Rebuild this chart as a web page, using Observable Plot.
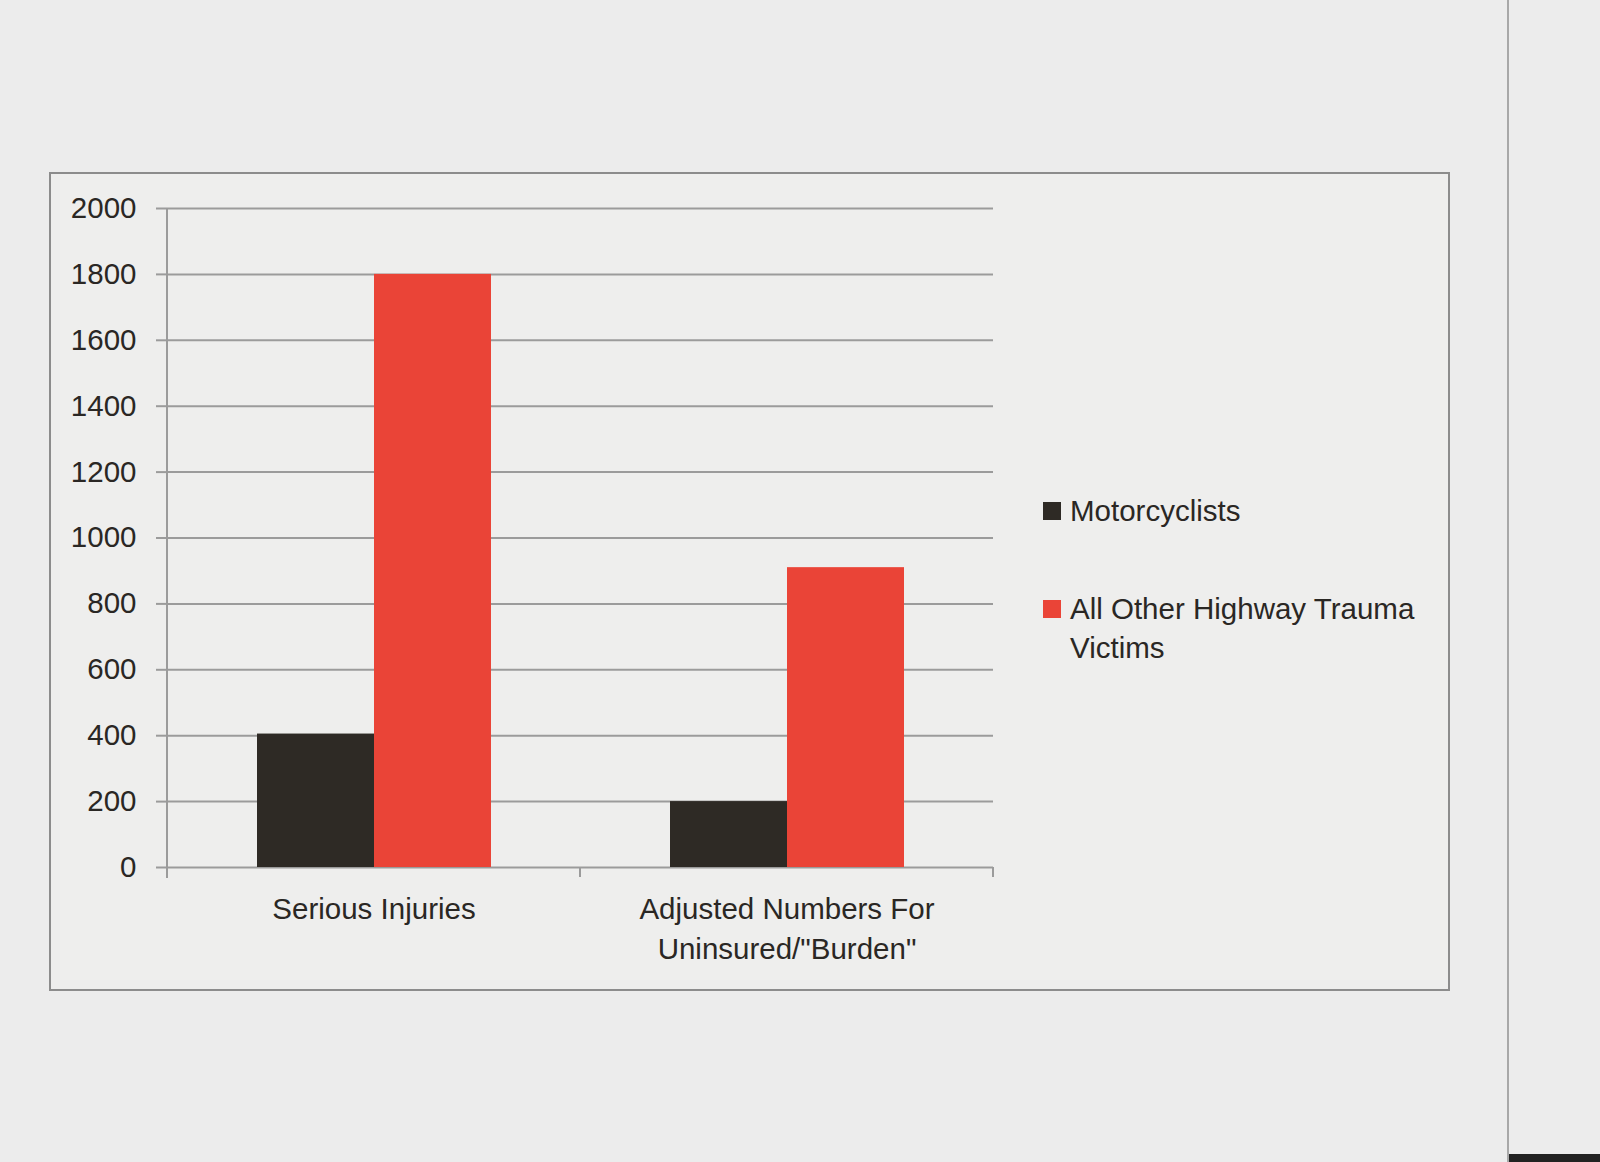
<!DOCTYPE html>
<html>
<head>
<meta charset="utf-8">
<script src="https://cdn.jsdelivr.net/npm/d3@7"></script>
<script src="https://cdn.jsdelivr.net/npm/@observablehq/plot@0.6"></script>
<style>
  html, body { margin: 0; padding: 0; }
  body { background: #ececec; width: 1600px; height: 1162px; position: relative; overflow: hidden;
         font-family: "Liberation Sans", Arial, sans-serif; color: #2a2724; }
  #frame { position: absolute; left: 49px; top: 172px; width: 1397px; height: 815px;
           border: 2px solid #8c8c8c; box-sizing: content-box; background: #eeeeed; }
  #chart { position: absolute; left: 0; top: 0; }
  #legend { position: absolute; left: 1043px; top: 491px; font-size: 29.5px; line-height: 39px; }
  .item { display: flex; align-items: flex-start; margin-bottom: 59px; }
  .swatch { width: 18px; height: 18px; margin-top: 10.5px; flex: none; }
  .label { margin-left: 9px; max-width: 380px; }
  #edge { position: absolute; left: 1507px; top: 0; width: 2px; height: 1162px; background: #a8a8a8; }
  #edge2 { position: absolute; left: 1509px; top: 1154px; width: 91px; height: 8px; background: #222; }
</style>
</head>
<body>
<div id="frame"></div>
<div id="edge"></div>
<div id="edge2"></div>
<div id="chart"></div>
<div id="legend"></div>
<script>
// ---- data ----
const categories = ["Serious Injuries", "Adjusted Numbers For\nUninsured/\"Burden\""];
const series = ["Motorcyclists", "All Other Highway Trauma Victims"];
const motorcyclists = [405, 200];
const allOtherVictims = [1800, 910];
const seriesColors = ["#2e2a25", "#ea4437"];
const yTicks = [0, 200, 400, 600, 800, 1000, 1200, 1400, 1600, 1800, 2000];

const rows = [];
categories.forEach((c, i) => {
  rows.push({category: c, series: series[0], value: motorcyclists[i]});
  rows.push({category: c, series: series[1], value: allOtherVictims[i]});
});

const chart = Plot.plot({
  width: 1600,
  height: 1162,
  marginLeft: 166,
  marginRight: 607,
  marginTop: 208,
  marginBottom: 295,
  style: {background: "transparent", fontFamily: "'Liberation Sans', Arial, sans-serif", fontSize: "29px", color: "#2a2724", overflow: "visible"},
  fx: {domain: categories, padding: 0, label: null},
  x: {domain: series, paddingInner: 0, paddingOuter: 0.752, axis: null},
  y: {domain: [0, 2000], label: null},
  color: {domain: series, range: seriesColors},
  marks: [
    Plot.gridY(yTicks, {stroke: "#9b9b9b", strokeOpacity: 1, strokeWidth: 2}),
    Plot.barY(rows, {fx: "category", x: "series", y: "value", fill: "series"}),
    Plot.axisY(yTicks, {tickSize: 11, tickPadding: 20, stroke: "#9b9b9b", strokeWidth: 2, fontSize: 29.5, label: null, tickFormat: d => String(d)}),
    Plot.axisFx({anchor: "bottom", tickSize: 0, tickPadding: 24, fontSize: 29.5, lineHeight: 1.33, label: null, tickFormat: d => d})
  ]
});
document.getElementById("chart").appendChild(chart);

// axis line and category boundary ticks derived from the plot's own scales
const fx = chart.scale("fx");
const y = chart.scale("y");
const bounds = categories.map(c => fx.apply(c)).concat([fx.apply(categories[categories.length - 1]) + fx.bandwidth]);
const g = d3.select(chart).append("g").attr("stroke", "#9b9b9b").attr("stroke-width", 2);
g.append("line").attr("x1", bounds[0]).attr("x2", bounds[0]).attr("y1", y.apply(2000)).attr("y2", y.apply(0) + 11);
bounds.forEach(b => g.append("line").attr("x1", b).attr("x2", b).attr("y1", y.apply(0)).attr("y2", y.apply(0) + 10));

// legend
const legend = d3.select("#legend");
series.forEach((s, i) => {
  const it = legend.append("div").attr("class", "item");
  it.append("div").attr("class", "swatch").style("background", seriesColors[i]);
  it.append("div").attr("class", "label").text(s);
});
</script>
</body>
</html>
